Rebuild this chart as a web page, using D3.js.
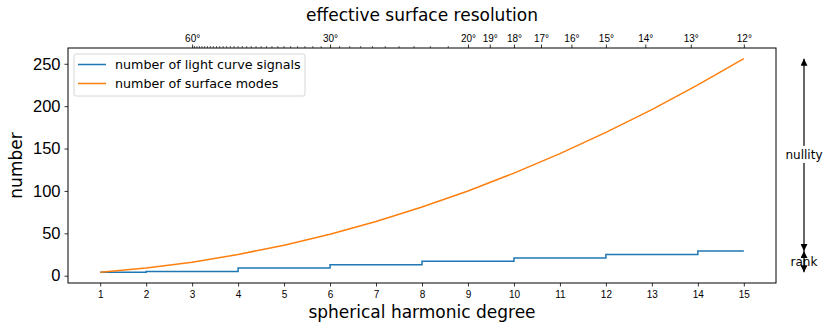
<!DOCTYPE html>
<html>
<head>
<meta charset="utf-8">
<script src="https://cdn.jsdelivr.net/npm/d3@7.9.0/dist/d3.min.js"></script>
<style>
  body { margin: 0; background: #fff; }
  svg { font-family: "DejaVu Sans", sans-serif; }
</style>
</head>
<body>
<div id="chart"></div>
<script>
// spherical harmonic degree
const degrees = [1, 2, 3, 4, 5, 6, 7, 8, 9, 10, 11, 12, 13, 14, 15];
// number of light curve signals (rank)
const signals = [4, 5, 5, 9, 9, 13, 13, 17, 17, 21, 21, 25, 25, 29, 29];
// number of surface modes
const modes = [4, 9, 16, 25, 36, 49, 64, 81, 100, 121, 144, 169, 196, 225, 256];
// top axis: effective surface resolution in degrees
const resMajor = [60, 30, 20, 19, 18, 17, 16, 15, 14, 13, 12];
const resMinor = d3.range(21, 60).filter(d => d !== 30);
const yTicks = [0, 50, 100, 150, 200, 250];

const width = 831, height = 329;
const margin = { top: 48, right: 55, bottom: 46, left: 68 };
const plotW = width - margin.left - margin.right;
const plotH = height - margin.top - margin.bottom;

const svg = d3.select("#chart").append("svg")
    .attr("width", width)
    .attr("height", height);

const g = svg.append("g").attr("transform", `translate(${margin.left},${margin.top})`);

const x = d3.scaleLinear().domain([0.3, 15.7]).range([0, plotW]);
const y = d3.scaleLinear().domain([-8.6, 268.6]).range([plotH, 0]);

// axes
const xAxis = g.append("g")
    .attr("transform", `translate(0,${plotH})`)
    .call(d3.axisBottom(x).tickValues(degrees).tickFormat(d3.format("d")).tickSizeOuter(0).tickSize(3.5).tickPadding(4));
xAxis.selectAll("text").style("font-size", "10px");

const yAxis = g.append("g")
    .call(d3.axisLeft(y).tickValues(yTicks).tickSizeOuter(0).tickSize(3.5).tickPadding(4));
yAxis.selectAll("text").style("font-size", "16.5px");

const topAxis = g.append("g")
    .call(d3.axisTop(x).tickValues(resMajor.map(d => 180 / d)).tickFormat((d, i) => resMajor[i] + "°").tickSizeOuter(0).tickSize(3.5).tickPadding(3));
topAxis.selectAll("text").style("font-size", "10px");

g.append("g").selectAll("line").data(resMinor)
    .join("line")
    .attr("x1", d => x(180 / d)).attr("x2", d => x(180 / d))
    .attr("y1", 0).attr("y2", -2)
    .attr("stroke", "#000").attr("stroke-width", 0.6);

g.selectAll(".domain").remove();
g.selectAll(".tick line").attr("stroke", "#000").attr("stroke-width", 0.8);
g.selectAll(".tick text").attr("fill", "#000");

g.append("rect")
    .attr("width", plotW).attr("height", plotH)
    .attr("fill", "none").attr("stroke", "#000").attr("stroke-width", 1);

// lines
g.append("path")
    .datum(degrees.map((d, i) => [d, signals[i]]))
    .attr("fill", "none")
    .attr("stroke", "#1f77b4")
    .attr("stroke-width", 1.5)
    .attr("d", d3.line().x(d => x(d[0])).y(d => y(d[1])).curve(d3.curveStepAfter));

g.append("path")
    .datum(degrees.map((d, i) => [d, modes[i]]))
    .attr("fill", "none")
    .attr("stroke", "#ff7f0e")
    .attr("stroke-width", 1.5)
    .attr("d", d3.line().x(d => x(d[0])).y(d => y(d[1])));

// legend
const legend = g.append("g").attr("transform", "translate(6,6)");
legend.append("rect")
    .attr("width", 231).attr("height", 42).attr("rx", 2)
    .attr("fill", "#fff").attr("fill-opacity", 0.8)
    .attr("stroke", "#ccc").attr("stroke-width", 0.8);
const entries = [
    { label: "number of light curve signals", color: "#1f77b4" },
    { label: "number of surface modes", color: "#ff7f0e" }
];
entries.forEach((e, i) => {
    const ly = 10.5 + i * 19;
    legend.append("line")
        .attr("x1", 4).attr("x2", 32).attr("y1", ly).attr("y2", ly)
        .attr("stroke", e.color).attr("stroke-width", 1.5);
    legend.append("text")
        .attr("x", 41).attr("y", ly + 4.5)
        .style("font-size", "12.7px")
        .text(e.label);
});

// axis labels
svg.append("text")
    .attr("x", margin.left + plotW / 2).attr("y", 318)
    .attr("text-anchor", "middle").style("font-size", "17px")
    .text("spherical harmonic degree");
svg.append("text")
    .attr("x", margin.left + plotW / 2).attr("y", 21)
    .attr("text-anchor", "middle").style("font-size", "17px")
    .text("effective surface resolution");
svg.append("text")
    .attr("transform", `translate(22,${margin.top + plotH / 2}) rotate(-90)`)
    .attr("text-anchor", "middle").style("font-size", "17px")
    .text("number");

// nullity / rank annotations
const defs = svg.append("defs");
defs.append("marker")
    .attr("id", "ah")
    .attr("viewBox", "0 0 10 10")
    .attr("refX", 10).attr("refY", 5)
    .attr("markerWidth", 7).attr("markerHeight", 7)
    .attr("markerUnits", "userSpaceOnUse")
    .attr("orient", "auto-start-reverse")
    .append("path").attr("d", "M0,0 L10,5 L0,10 Z").attr("fill", "#000");

const ax = margin.left + plotW + 28;
const vTop = modes[modes.length - 1], vMid = signals[signals.length - 1], vBot = signals[0];
function arrow(v1, v2) {
    svg.append("line")
        .attr("x1", ax).attr("x2", ax)
        .attr("y1", margin.top + y(v1)).attr("y2", margin.top + y(v2))
        .attr("stroke", "#000").attr("stroke-width", 1.2)
        .attr("marker-start", "url(#ah)").attr("marker-end", "url(#ah)");
}
arrow(vTop, vMid);
arrow(vMid, vBot);

const nullY = margin.top + y((vTop + vMid) / 2);
svg.append("rect")
    .attr("x", ax - 21).attr("y", nullY - 9)
    .attr("width", 42).attr("height", 17)
    .attr("fill", "#fff");
svg.append("text")
    .attr("x", ax).attr("y", nullY + 4)
    .attr("text-anchor", "middle").style("font-size", "12px")
    .text("nullity");

svg.append("text")
    .attr("x", ax).attr("y", margin.top + y((vMid + vBot) / 2) + 4)
    .attr("text-anchor", "middle").style("font-size", "12px")
    .text("rank");
</script>
</body>
</html>
